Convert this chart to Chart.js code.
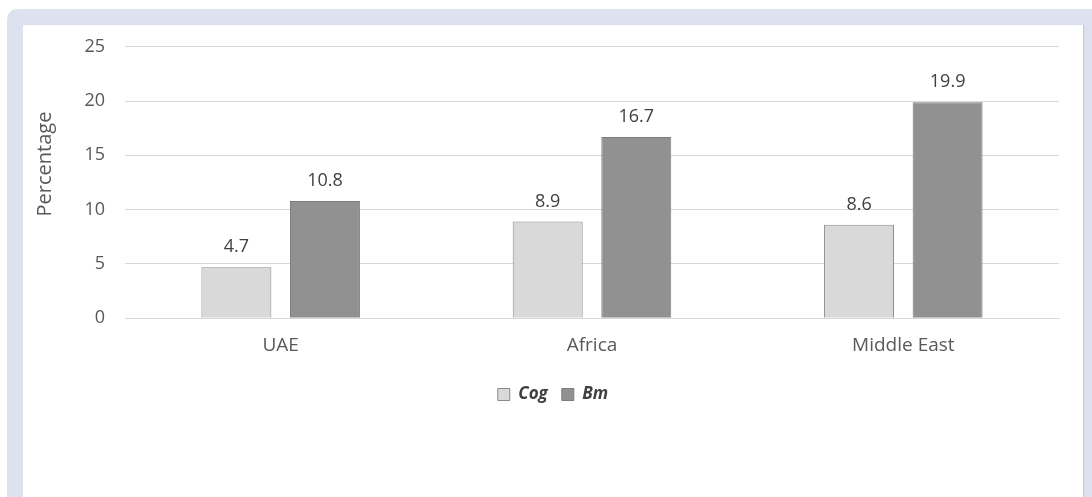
<!DOCTYPE html>
<html>
<head>
    <title>Cog vs Bm</title>
    <script src="https://cdn.jsdelivr.net/npm/chart.js"></script>
    <style>
        body {
            margin: 0;
            background: white;
            overflow: hidden;
            font-family: "Open Sans", Arial, sans-serif;
        }
        .frame {
            position: absolute;
            left: 7px;
            top: 9px;
            width: 1100px;
            height: 600px;
            background: #dee2f0;
            border-radius: 10px;
        }
        .panel {
            position: absolute;
            left: 16px;
            top: 16px;
            width: 1060px;
            height: 560px;
            background: white;
            box-shadow: 1px 0 1px #c8cad4;
        }
        .chart-box {
            position: absolute;
            left: 0;
            top: -9px;
            width: 1060px;
            height: 482px;
        }
    </style>
</head>
<body>
    <div class="frame">
        <div class="panel">
            <div class="chart-box">
                <canvas id="barChart"></canvas>
            </div>
        </div>
    </div>

    <script>
        const categories = ["UAE", "Africa", "Middle East"];
        const seriesNames = ["Cog", "Bm"];
        const cogValues = [4.7, 8.9, 8.6];
        const bmValues = [10.8, 16.7, 19.9];
        const yTicks = [0, 5, 10, 15, 20, 25];
        const yTitle = "Percentage";

        const fontFamily = "'Open Sans', Arial, sans-serif";

        // value labels above each bar
        const barLabels = {
            id: "barLabels",
            afterDatasetsDraw(chart) {
                const ctx = chart.ctx;
                ctx.save();
                ctx.font = "18px " + fontFamily;
                ctx.fillStyle = "#404040";
                ctx.textAlign = "center";
                ctx.textBaseline = "alphabetic";
                chart.data.datasets.forEach((ds, i) => {
                    chart.getDatasetMeta(i).data.forEach((bar, j) => {
                        ctx.fillText(ds.data[j].toFixed(1), bar.x, bar.y - 15);
                    });
                });
                ctx.restore();
            }
        };

        // y title, placed like the original (not centred on the axis)
        const sideTitle = {
            id: "sideTitle",
            afterDraw(chart) {
                const ctx = chart.ctx;
                ctx.save();
                ctx.translate(22, 148);
                ctx.rotate(-Math.PI / 2);
                ctx.font = "20px " + fontFamily;
                ctx.fillStyle = "#595959";
                ctx.textAlign = "center";
                ctx.textBaseline = "middle";
                ctx.fillText(yTitle, 0, 0);
                ctx.restore();
            }
        };

        const ctx = document.getElementById("barChart").getContext("2d");
        new Chart(ctx, {
            type: "bar",
            data: {
                labels: categories,
                datasets: [{
                    label: seriesNames[0],
                    data: cogValues,
                    backgroundColor: "#d9d9d9",
                    borderColor: "#8a8a8a",
                    borderWidth: 1
                }, {
                    label: seriesNames[1],
                    data: bmValues,
                    backgroundColor: "#919191",
                    borderColor: "#7c7c7c",
                    borderWidth: 1
                }]
            },
            options: {
                responsive: true,
                maintainAspectRatio: false,
                animation: false,
                datasets: {
                    bar: {
                        categoryPercentage: 0.569,
                        barPercentage: 0.79
                    }
                },
                layout: {
                    padding: { left: 24, right: 24, top: 12, bottom: 85 }
                },
                scales: {
                    x: {
                        grid: { display: false, drawTicks: false },
                        border: { display: true, color: "#d9d9d9", width: 1 },
                        ticks: {
                            padding: 16,
                            color: "#595959",
                            font: { family: fontFamily, size: 19 }
                        },
                        afterFit(scale) { scale.height -= 1; }
                    },
                    y: {
                        min: yTicks[0],
                        max: yTicks[yTicks.length - 1],
                        afterBuildTicks(scale) {
                            scale.ticks = yTicks.map(v => ({ value: v }));
                        },
                        grid: { color: "#d9d9d9", drawTicks: false },
                        border: { display: false },
                        ticks: {
                            padding: 20,
                            color: "#595959",
                            font: { family: fontFamily, size: 18 }
                        },
                        afterFit(scale) { scale.width = 78; }
                    }
                },
                plugins: {
                    legend: {
                        position: "bottom",
                        labels: {
                            boxWidth: 12,
                            boxHeight: 12,
                            padding: 14,
                            color: "#404040",
                            font: { family: fontFamily, size: 17, style: "italic", weight: "bold" }
                        }
                    },
                    tooltip: { enabled: false }
                }
            },
            plugins: [barLabels, sideTitle]
        });
    </script>
</body>
</html>
